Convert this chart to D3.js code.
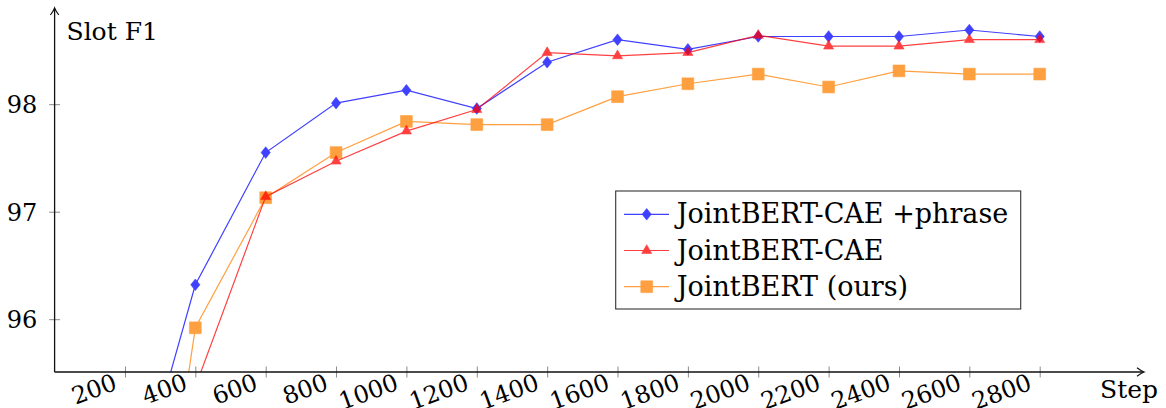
<!DOCTYPE html>
<html>
<head>
<meta charset="utf-8">
<script src="https://cdn.jsdelivr.net/npm/d3@7"></script>
<style>
  body { margin: 0; background: #fff; }
  svg { display: block; }
  svg text { font-family: 'DejaVu Serif', serif; fill: #000; font-size: 24px; }
  svg text.axis-title { font-size: 25px; }
  svg text.legend-label { font-size: 27px; }
</style>
</head>
<body>
<svg id="chart" width="1166" height="408"></svg>
<script>
// Training steps (x) and slot F1 scores per model
const steps = [200, 400, 600, 800, 1000, 1200, 1400, 1600, 1800, 2000, 2200, 2400, 2600, 2800];
const phraseF1 = [94.0, 96.32, 97.55, 98.01, 98.13, 97.96, 98.39, 98.60, 98.51, 98.63, 98.63, 98.63, 98.69, 98.63];
const caeF1    = [92.0, 95.37, 97.14, 97.47, 97.75, 97.95, 98.48, 98.45, 98.48, 98.64, 98.54, 98.54, 98.60, 98.60];
const baseF1   = [91.5, 95.92, 97.13, 97.55, 97.84, 97.81, 97.81, 98.07, 98.19, 98.28, 98.16, 98.31, 98.28, 98.28];
const xTickValues = [200, 400, 600, 800, 1000, 1200, 1400, 1600, 1800, 2000, 2200, 2400, 2600, 2800];
const yTickValues = [96, 97, 98];
const seriesNames = ["JointBERT-CAE +phrase", "JointBERT-CAE", "JointBERT (ours)"];
const seriesColors = ["#0000ff", "#ff0000", "#ff8000"];
const seriesMarks = ["diamond", "triangle", "square"];
const xLabel = "Step";
const yLabel = "Slot F1";

const series = seriesNames.map((name, i) => ({
  name,
  color: seriesColors[i],
  mark: seriesMarks[i],
  values: [phraseF1, caeF1, baseF1][i].map((v, j) => ({ step: steps[j], f1: v }))
}));

const svg = d3.select("#chart");
const x = d3.scaleLinear().domain([0, 2800]).range([54.6, 1039.7]);
const y = d3.scaleLinear().domain([96, 98]).range([319.2, 104.2]);
const axisLeftX = x(0);
const axisBottomY = 372;
const axisTopY = 8;
const axisRightX = 1144;

// plot-area clip
svg.append("defs").append("clipPath").attr("id", "plotClip")
  .append("rect")
  .attr("x", axisLeftX).attr("y", axisTopY)
  .attr("width", axisRightX - axisLeftX).attr("height", axisBottomY - axisTopY);

// marker shapes
function markPath(kind) {
  if (kind === "diamond") {
    const w = 4.6, h = 5.8;
    return `M0,${-h}L${w},0L0,${h}L${-w},0Z`;
  }
  if (kind === "triangle") {
    const r = 5.8;
    return `M0,${-r}L${0.866 * r},${0.5 * r}L${-0.866 * r},${0.5 * r}Z`;
  }
  const s = 5.9;
  return `M${-s},${-s}L${s},${-s}L${s},${s}L${-s},${s}Z`;
}

// data layer
const plot = svg.append("g").attr("clip-path", "url(#plotClip)");
const line = d3.line().x(d => x(d.step)).y(d => y(d.f1));
const drawOrder = [0, 2, 1];
drawOrder.forEach(i => {
  const s = series[i];
  const g = plot.append("g").attr("opacity", 0.75);
  g.append("path")
    .datum(s.values)
    .attr("d", line)
    .attr("fill", "none")
    .attr("stroke", s.color)
    .attr("stroke-width", 1.2);
  g.selectAll("path.mark")
    .data(s.values)
    .join("path")
    .attr("class", "mark")
    .attr("transform", d => `translate(${x(d.step)},${y(d.f1)})`)
    .attr("d", markPath(s.mark))
    .attr("fill", s.color)
    .attr("stroke", s.color)
    .attr("stroke-width", 0.6);
});

// x axis
const xAxis = svg.append("g")
  .attr("transform", `translate(0,${axisBottomY})`)
  .call(d3.axisBottom(x).tickValues(xTickValues).tickFormat(d3.format("d")))
  .attr("font-family", null).attr("font-size", null);
xAxis.select(".domain").remove();
xAxis.selectAll(".tick line").attr("y1", -5.5).attr("y2", 5.5).attr("stroke", "#8a8a8a").attr("stroke-width", 1);
xAxis.selectAll(".tick text")
  .attr("x", 0).attr("y", 0).attr("dy", null)
  .attr("text-anchor", "end")
  .attr("transform", "translate(-7,17) rotate(-20)")
  .attr("fill", "#000");

// y axis
const yAxis = svg.append("g")
  .attr("transform", `translate(${axisLeftX},0)`)
  .call(d3.axisLeft(y).tickValues(yTickValues).tickFormat(d3.format("d")))
  .attr("font-family", null).attr("font-size", null);
yAxis.select(".domain").remove();
yAxis.selectAll(".tick line").attr("x1", -5.5).attr("x2", 5.5).attr("stroke", "#8a8a8a").attr("stroke-width", 1);
yAxis.selectAll(".tick text")
  .attr("x", -17.3).attr("dy", "0.36em")
  .attr("fill", "#000");

// axis lines with arrow tips
const axisStroke = "#111";
svg.append("line")
  .attr("x1", axisLeftX).attr("y1", axisBottomY)
  .attr("x2", axisRightX - 0.5).attr("y2", axisBottomY)
  .attr("stroke", axisStroke).attr("stroke-width", 1.3);
svg.append("line")
  .attr("x1", axisLeftX).attr("y1", axisBottomY)
  .attr("x2", axisLeftX).attr("y2", axisTopY + 0.5)
  .attr("stroke", axisStroke).attr("stroke-width", 1.3);
svg.append("path")
  .attr("d", `M${axisRightX - 7},${axisBottomY - 4.2} Q${axisRightX - 2.5},${axisBottomY - 0.8} ${axisRightX},${axisBottomY} Q${axisRightX - 2.5},${axisBottomY + 0.8} ${axisRightX - 7},${axisBottomY + 4.2}`)
  .attr("fill", "none").attr("stroke", axisStroke).attr("stroke-width", 1.2);
svg.append("path")
  .attr("d", `M${axisLeftX - 4.2},${axisTopY + 7} Q${axisLeftX - 0.8},${axisTopY + 2.5} ${axisLeftX},${axisTopY} Q${axisLeftX + 0.8},${axisTopY + 2.5} ${axisLeftX + 4.2},${axisTopY + 7}`)
  .attr("fill", "none").attr("stroke", axisStroke).attr("stroke-width", 1.2);

// axis titles
svg.append("text")
  .attr("class", "axis-title")
  .attr("x", 66.5).attr("y", 39.5)
  .text(yLabel);
svg.append("text")
  .attr("class", "axis-title")
  .attr("x", 1100).attr("y", 398)
  .text(xLabel);

// legend
const legend = svg.append("g");
legend.append("rect")
  .attr("x", 615.7).attr("y", 191)
  .attr("width", 405).attr("height", 118)
  .attr("fill", "#fff").attr("stroke", "#333").attr("stroke-width", 1.1);
const rowY = d3.scalePoint().domain(seriesNames).range([214.3, 286.7]);
series.forEach(s => {
  const cy = rowY(s.name);
  const g = legend.append("g");
  const sg = g.append("g").attr("opacity", 0.75);
  sg.append("line")
    .attr("x1", 624).attr("x2", 669)
    .attr("y1", cy).attr("y2", cy)
    .attr("stroke", s.color).attr("stroke-width", 1.2);
  sg.append("path")
    .attr("transform", `translate(646.7,${cy})`)
    .attr("d", markPath(s.mark))
    .attr("fill", s.color).attr("stroke", s.color).attr("stroke-width", 0.6);
  g.append("text")
    .attr("class", "legend-label")
    .attr("x", 676.7).attr("y", cy + 9)
    .text(s.name);
});
</script>
</body>
</html>
